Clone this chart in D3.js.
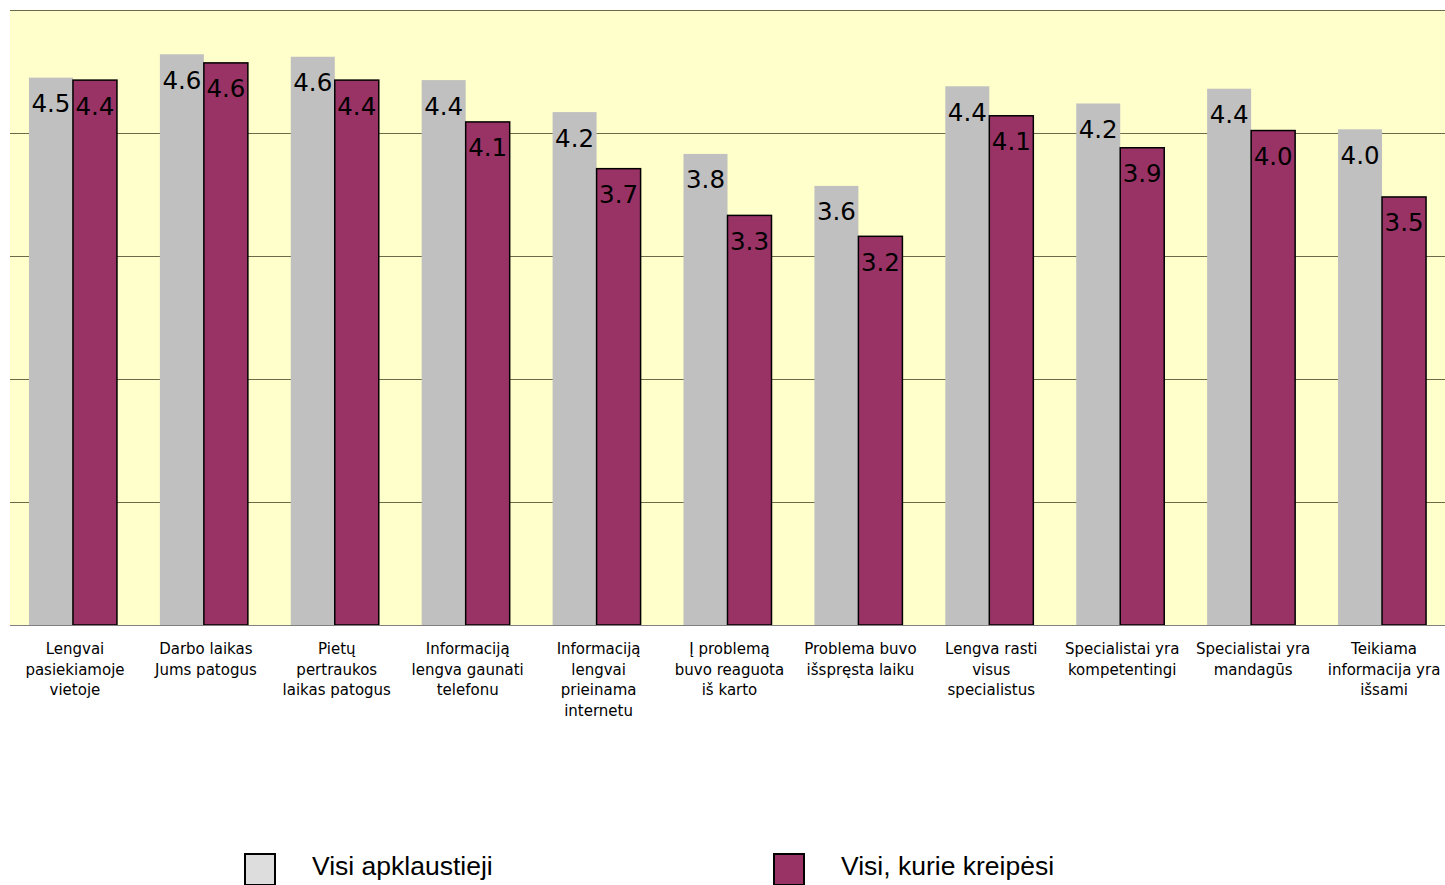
<!DOCTYPE html>
<html><head><meta charset="utf-8">
<script src="https://cdn.jsdelivr.net/npm/d3@7"></script>
<style>html,body{margin:0;padding:0;background:#fff;}svg{display:block;}</style>
</head><body>
<script>
const categories = [
  ["Lengvai","pasiekiamoje","vietoje"],
  ["Darbo laikas","Jums patogus"],
  ["Pietų","pertraukos","laikas patogus"],
  ["Informaciją","lengva gaunati","telefonu"],
  ["Informaciją","lengvai","prieinama","internetu"],
  ["Į problemą","buvo reaguota","iš karto"],
  ["Problema buvo","išspręsta laiku"],
  ["Lengva rasti","visus","specialistus"],
  ["Specialistai yra","kompetentingi"],
  ["Specialistai yra","mandagūs"],
  ["Teikiama","informacija yra","išsami"]
];
const seriesNames = ["Visi apklaustieji", "Visi, kurie kreipėsi"];
const allRespondents = [4.45, 4.64, 4.62, 4.43, 4.17, 3.83, 3.57, 4.38, 4.24, 4.36, 4.03];
const contacted = [4.43, 4.57, 4.43, 4.09, 3.71, 3.33, 3.16, 4.14, 3.88, 4.02, 3.48];
const yTicks = [0, 1, 2, 3, 4, 5];

const W = 1445, H = 885;
const svg = d3.select("body").append("svg").attr("width", W).attr("height", H);

const plotL = 10, plotR = 1445, plotT = 10, plotB = 625;
const y = d3.scaleLinear().domain([0, 5]).range([plotB, plotT]);
const x = d3.scaleBand().domain(d3.range(categories.length)).range([7.5, 1447.5]).padding(0);
const bw = x.bandwidth();
const xs = d3.scaleBand().domain([0, 1]).range([bw / 2 - 44, bw / 2 + 44]).padding(0);

svg.append("rect").attr("x", plotL).attr("y", plotT).attr("width", plotR - plotL).attr("height", plotB - plotT).attr("fill", "#FFFFCC");

svg.append("g").selectAll("line").data(yTicks.filter(d => d > 0)).join("line")
  .attr("x1", plotL).attr("x2", plotR)
  .attr("y1", d => Math.round(y(d)) + 0.5).attr("y2", d => Math.round(y(d)) + 0.5)
  .attr("stroke", "#6b6b4a").attr("stroke-width", 1);

const colors = ["#C0C0C0", "#993366"];
const data = categories.map((c, i) => ({i, vals: [allRespondents[i], contacted[i]]}));

const groups = svg.append("g").selectAll("g").data(data).join("g")
  .attr("transform", d => `translate(${x(d.i)},0)`);

groups.selectAll("rect").data(d => d.vals.map((v, s) => ({v, s}))).join("rect")
  .attr("x", d => xs(d.s)).attr("width", xs.bandwidth())
  .attr("y", d => y(d.v)).attr("height", d => y(0) - y(d.v))
  .attr("fill", d => colors[d.s])
  .attr("stroke", d => d.s === 1 ? "#000" : "none")
  .attr("stroke-width", 1.5);

groups.selectAll("text.val").data(d => d.vals.map((v, s) => ({v, s}))).join("text")
  .attr("class", "val")
  .attr("x", d => xs(d.s) + xs.bandwidth() / 2)
  .attr("y", d => y(d.v) + 34.5)
  .attr("text-anchor", "middle")
  .attr("font-family", "DejaVu Sans, Verdana, sans-serif")
  .attr("font-size", 24.5)
  .attr("fill", "#000")
  .text(d => d.v.toFixed(1));

// x axis line
svg.append("line").attr("x1", plotL).attr("x2", plotR).attr("y1", plotB + 0.5).attr("y2", plotB + 0.5)
  .attr("stroke", "#808080").attr("stroke-width", 1);

// category labels
const lab = svg.append("g").selectAll("text").data(categories).join("text")
  .attr("x", (d, i) => x(i) + bw / 2 + 2)
  .attr("y", 654)
  .attr("text-anchor", "middle")
  .attr("font-family", "DejaVu Sans, Verdana, sans-serif")
  .attr("font-size", 15)
  .attr("fill", "#000");
lab.selectAll("tspan").data(d => d).join("tspan")
  .attr("x", function() { return this.parentNode.getAttribute("x"); })
  .attr("dy", (d, j) => j === 0 ? 0 : 20.5)
  .text(d => d);

// legend
const legendX = [244, 773];
const legendFill = ["#DDDDDD", "#993366"];
const lg = svg.append("g").selectAll("g").data(seriesNames).join("g")
  .attr("transform", (d, i) => `translate(${legendX[i]},853)`);
lg.append("rect").attr("x", 1).attr("y", 1).attr("width", 30).attr("height", 31)
  .attr("fill", (d, i) => legendFill[i]).attr("stroke", "#000").attr("stroke-width", 2);
lg.append("text").attr("x", 68).attr("y", 22)
  .attr("font-family", "Liberation Sans, Arial, sans-serif").attr("font-size", 26.5)
  .attr("fill", "#000").text(d => d);
</script>
</body></html>
